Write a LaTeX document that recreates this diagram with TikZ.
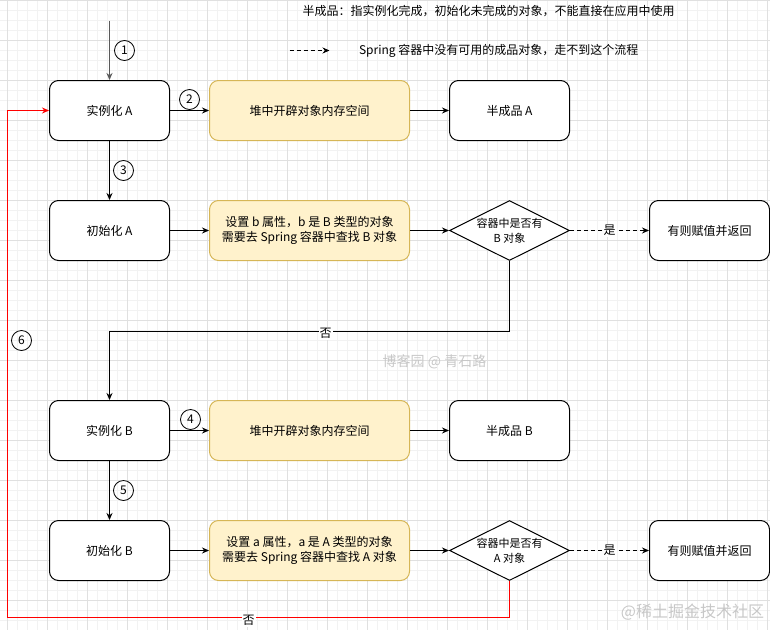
\documentclass[tikz,border=0pt]{standalone}
\usepackage{fontspec}
\setmainfont{Noto Sans CJK SC}
\usetikzlibrary{arrows.meta,shapes.geometric}

\begin{document}
\begin{tikzpicture}[x=1pt,y=-1pt,>={Stealth[length=7pt,width=6pt]},
  every node/.style={font=\fontsize{12}{15}\selectfont},
  proc/.style={draw,line width=1pt,rounded corners=9pt,fill=white,
    minimum width=120pt,minimum height=60pt,inner sep=0pt},
  heap/.style={proc,draw=heapline,fill=heapfill,minimum width=200pt,align=center},
  decide/.style={diamond,draw,line width=1pt,fill=white,
    minimum width=120pt,minimum height=60pt,inner sep=0pt},
  dtext/.style={align=center,font=\fontsize{11}{15}\selectfont},
  num/.style={circle,draw,line width=0.8pt,minimum size=20pt,inner sep=0pt},
  flow/.style={->,line width=1pt},
  dflow/.style={flow,dash pattern=on 4pt off 3pt},
  backflow/.style={flow,color=backred},
  lbl/.style={fill=white,inner sep=1pt},
  wmark/.style={text=black!22,font=\fontsize{14}{16}\selectfont},
  gridminor/.style={draw=black!5,line width=1pt},
  gridmajor/.style={draw=black!12,line width=1pt}]
  \definecolor{heapfill}{HTML}{FFF2CC}
  \definecolor{heapline}{HTML}{D6B656}
  \definecolor{backred}{HTML}{FF0000}
  \useasboundingbox (0,0) rectangle (770,629);
  \begin{scope}[shift={(0.5,0.5)}]

  % background grid
  \foreach \gx in {7,17,...,767} \draw[gridminor] (\gx,-1) -- (\gx,629);
  \foreach \gy in {10,20,...,620} \draw[gridminor] (-1,\gy) -- (770,\gy);
  \foreach \gx in {7,47,...,767} \draw[gridmajor] (\gx,-1) -- (\gx,629);
  \foreach \gy in {0,40,...,600} \draw[gridmajor] (-1,\gy) -- (770,\gy);

  % legend
  \node (note) at (488,11) {半成品：指实例化完成，初始化未完成的对象，不能直接在应用中使用};
  \coordinate (lga) at (289,50);
  \coordinate (lgb) at (329,50);
  \draw[dflow] (lga) -- (lgb);
  \node[anchor=west] (lgt) at (355,50) {Spring 容器中没有可用的成品对象，走不到这个流程};

  % bean A
  \coordinate (start) at (109,20);
  \node[proc] (ia) at (109,110) {实例化 A};
  \node[heap] (hpa) at (309,110) {堆中开辟对象内存空间};
  \node[proc] (hfa) at (509,110) {半成品 A};
  \node[proc] (ina) at (109,230) {初始化 A};
  \node[heap] (stb) at (309,230) {设置 b 属性，b 是 B 类型的对象\\需要去 Spring 容器中查找 B 对象};
  \node[decide,label={[dtext]center:{容器中是否有\\B 对象}}] (qb) at (509,230) {};
  \node[proc] (rta) at (709,230) {有则赋值并返回};

  % bean B
  \node[proc] (ib) at (109,430) {实例化 B};
  \node[heap] (hpb) at (309,430) {堆中开辟对象内存空间};
  \node[proc] (hfb) at (509,430) {半成品 B};
  \node[proc] (inb) at (109,550) {初始化 B};
  \node[heap] (sta) at (309,550) {设置 a 属性，a 是 A 类型的对象\\需要去 Spring 容器中查找 A 对象};
  \node[decide,label={[dtext]center:{容器中是否有\\A 对象}}] (qa) at (509,550) {};
  \node[proc] (rtb) at (709,550) {有则赋值并返回};

  \draw[flow,black!65] (start) -- (ia);
  \draw[flow] (ia) -- (hpa);
  \draw[flow] (hpa) -- (hfa);
  \draw[flow] (ia) -- (ina);
  \draw[flow] (ina) -- (stb);
  \draw[flow] (stb) -- (qb);
  \draw[dflow] (qb) -- (rta);
  \draw[flow] (qb.south) -- ++(0,70) -| (ib.north);
  \node[lbl] (yesb) at (609,230) {是};
  \node[lbl] (nob) at (325,333) {否};

  \draw[flow] (ib) -- (hpb);
  \draw[flow] (hpb) -- (hfb);
  \draw[flow] (ib) -- (inb);
  \draw[flow] (inb) -- (sta);
  \draw[flow] (sta) -- (qa);
  \draw[dflow] (qa) -- (rtb);
  \node[lbl] (yesa) at (609,550) {是};

  % back to A
  \coordinate (loop) at (7,617);
  \draw[backflow] (qa.south) |- (loop) |- (ia.west);
  \node[lbl] (noa) at (248,620) {否};

  % step numbers
  \node[num] (n1) at (124,50) {1};
  \node[num] (n2) at (189,99) {2};
  \node[num] (n3) at (123,170) {3};
  \node[num] (n4) at (190,419) {4};
  \node[num] (n5) at (123,490) {5};
  \node[num] (n6) at (21,340) {6};

  \node[wmark] (wm1) at (434,361) {博客园 @ 青石路};
  \node[wmark,font=\fontsize{16}{18}\selectfont] (wm2) at (692,612) {@稀土掘金技术社区};
  \end{scope}
\end{tikzpicture}
\end{document}
